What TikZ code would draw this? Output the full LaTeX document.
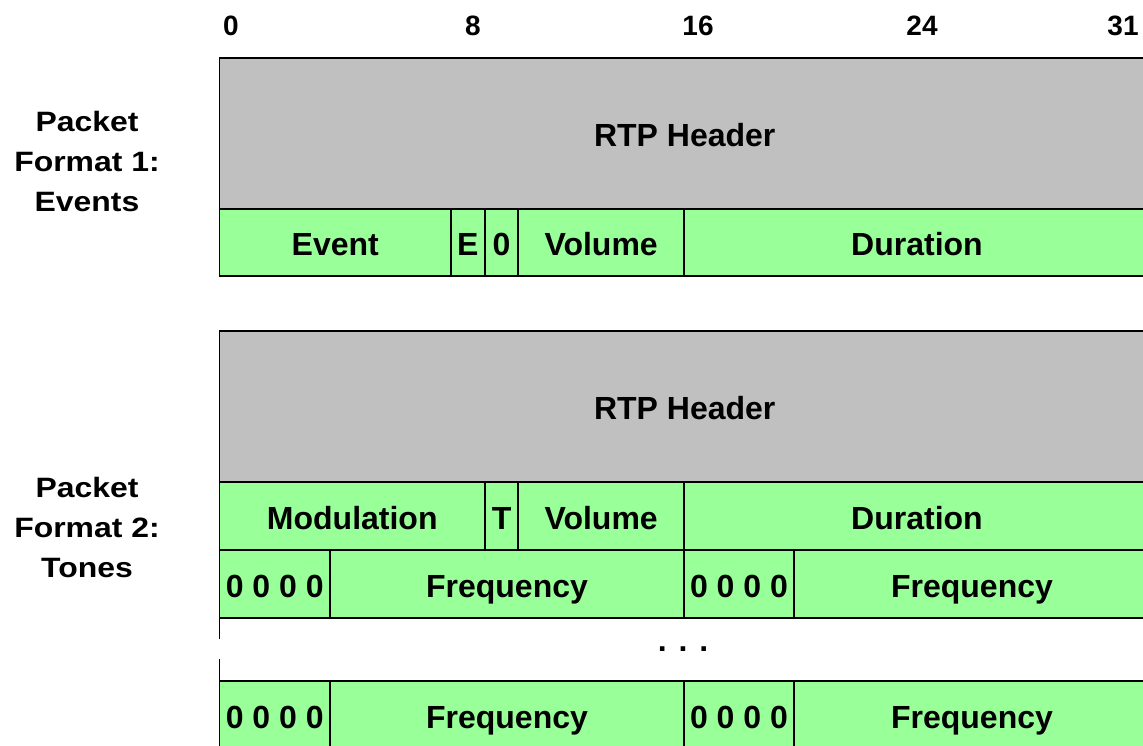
\documentclass[tikz,border=0pt]{standalone}
\usepackage{fontspec}
\setmainfont{Liberation Sans}
\newfontfamily\sidefont[FakeStretch=1.14]{Liberation Sans}
\definecolor{hdrgray}{HTML}{C0C0C0}
\definecolor{fieldgreen}{HTML}{99FF99}

% one field of a packet layout: name, fill, x1, y1, x2, y2, text
\newcommand{\fieldcell}[7]{%
  \pgfmathsetmacro{\cw}{#5-#3}%
  \pgfmathsetmacro{\ch}{#6-#4}%
  \node[cellbox, fill=#2, minimum width=\cw pt, minimum height=\ch pt,
        anchor=north west] (#1) at (#3,#4) {#7};}

\tikzset{
  cellbox/.style={draw=black, line width=1.8pt, inner sep=0pt, outer sep=0pt,
    font=\bfseries\fontsize{32}{38}\selectfont, text height=26pt, text depth=0pt},
  bitnum/.style={anchor=base, font=\bfseries\fontsize{28}{32}\selectfont},
  sidelabel/.style={align=center, font=\sidefont\bfseries\fontsize{28}{40}\selectfont},
  edge/.style={draw=black, line width=1.8pt}
}

\begin{document}
\begin{tikzpicture}[x=1pt, y=-1pt]
\useasboundingbox (0,0) rectangle (1143,745);
\clip (0,0) rectangle (1143,745);

% bit positions
\node[bitnum] (b0)  at (231,35)  {0};
\node[bitnum] (b8)  at (473,35)  {8};
\node[bitnum] (b16) at (698,35)  {16};
\node[bitnum] (b24) at (922,35)  {24};
\node[bitnum] (b31) at (1123,35) {31};

% format 1: events
\node[sidelabel] (fmt1) at (87,161) {Packet\\Format 1:\\Events};
\fieldcell{hdrA}{hdrgray}{219.5}{58}{1150}{209}{RTP Header}
\fieldcell{evt}{fieldgreen}{219.5}{209}{451}{276}{Event}
\fieldcell{ebit}{fieldgreen}{451}{209}{484.7}{276}{E}
\fieldcell{rbit}{fieldgreen}{484.7}{209}{518.3}{276}{0}
\fieldcell{volA}{fieldgreen}{518.3}{209}{684}{276}{Volume}
\fieldcell{durA}{fieldgreen}{684}{209}{1150}{276}{Duration}

% format 2: tones
\node[sidelabel] (fmt2) at (87,527) {Packet\\Format 2:\\Tones};
\fieldcell{hdrB}{hdrgray}{219.5}{330.7}{1150}{482}{RTP Header}
\fieldcell{mod}{fieldgreen}{219.5}{482}{485}{550}{Modulation}
\fieldcell{tbit}{fieldgreen}{485}{482}{518.3}{550}{T}
\fieldcell{volB}{fieldgreen}{518.3}{482}{684}{550}{Volume}
\fieldcell{durB}{fieldgreen}{684}{482}{1150}{550}{Duration}

\fieldcell{padA}{fieldgreen}{219.5}{550}{330}{618}{0 0 0 0}
\fieldcell{freqA}{fieldgreen}{330}{550}{684}{618}{Frequency}
\fieldcell{padB}{fieldgreen}{684}{550}{794}{618}{0 0 0 0}
\fieldcell{freqB}{fieldgreen}{794}{550}{1150}{618}{Frequency}

% elided rows
\coordinate (brkTop) at (219.5,639);
\coordinate (brkBot) at (219.5,659);
\draw[edge] (padA.south west) -- (brkTop);
\node[anchor=base, font=\bfseries\fontsize{32}{38}\selectfont] (dots) at (683,651) {. . .};

\fieldcell{padC}{fieldgreen}{219.5}{681}{330}{749}{0 0 0 0}
\fieldcell{freqC}{fieldgreen}{330}{681}{684}{749}{Frequency}
\fieldcell{padD}{fieldgreen}{684}{681}{794}{749}{0 0 0 0}
\fieldcell{freqD}{fieldgreen}{794}{681}{1150}{749}{Frequency}
\draw[edge] (brkBot) -- (padC.north west);
\end{tikzpicture}
\end{document}
